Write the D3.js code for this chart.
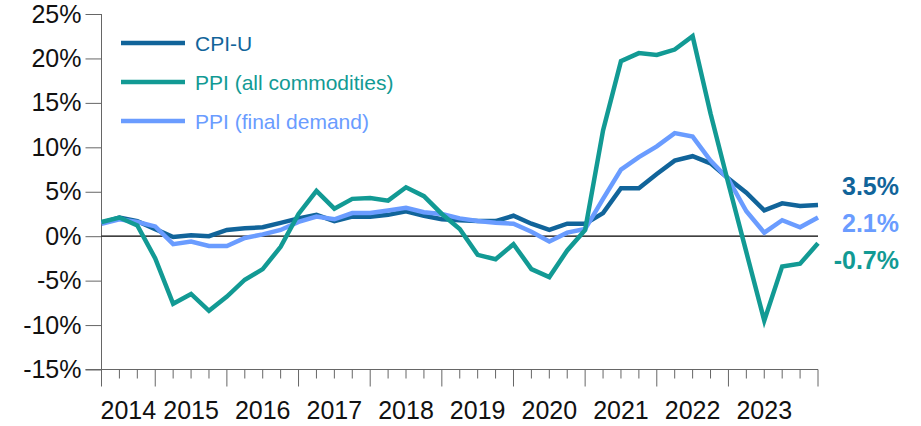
<!DOCTYPE html>
<html>
<head>
<meta charset="utf-8">
<script src="https://cdn.jsdelivr.net/npm/d3@7"></script>
<style>
	body { margin: 0; background: #fff; }
	svg { display: block; font-family: "Liberation Sans", Arial, Helvetica, sans-serif; }
</style>
</head>
<body>
<svg id="chart" width="921" height="426"></svg>
<script>
//////////
// DATA //
//////////
// quarterly, March 2014 .. March 2024, year-over-year % change
var quarters = d3.range(41);
var cpiU = [1.5, 2.1, 1.7, 0.8, -0.1, 0.1, 0.0, 0.7, 0.9, 1.0, 1.5, 2.0, 2.4, 1.7, 2.2, 2.2,
	2.4, 2.8, 2.3, 1.9, 1.8, 1.7, 1.7, 2.3, 1.4, 0.7, 1.4, 1.4, 2.6, 5.4, 5.4, 7.0,
	8.5, 9.0, 8.2, 6.5, 4.9, 2.9, 3.7, 3.4, 3.5];
var ppiAll = [1.6, 2.1, 1.2, -2.5, -7.6, -6.5, -8.4, -6.8, -4.9, -3.7, -1.2, 2.5, 5.1, 3.1, 4.2, 4.3,
	4.0, 5.5, 4.5, 2.5, 0.8, -2.1, -2.6, -0.9, -3.7, -4.6, -1.6, 0.7, 11.9, 19.7, 20.6, 20.4,
	21.0, 22.5, 13.8, 5.9, -1.8, -9.5, -3.4, -3.1, -0.8];
var ppiFinal = [1.4, 1.9, 1.6, 1.1, -0.9, -0.6, -1.1, -1.1, -0.2, 0.2, 0.7, 1.6, 2.2, 1.9, 2.6, 2.6,
	2.9, 3.2, 2.7, 2.5, 2.0, 1.7, 1.5, 1.4, 0.5, -0.6, 0.4, 0.8, 4.2, 7.5, 8.9, 10.1,
	11.6, 11.2, 8.5, 6.4, 2.8, 0.4, 1.8, 1.0, 2.1];

var yTicks = [-15, -10, -5, 0, 5, 10, 15, 20, 25];
var yearLabels = ["2014", "2015", "2016", "2017", "2018", "2019", "2020", "2021", "2022", "2023"];
var yearLabelAt = [1.5, 5, 9, 13, 17, 21, 25, 29, 33, 37];
var majorTicks = [0, 3, 7, 11, 15, 19, 23, 27, 31, 35, 40];

var seriesNames = ["CPI-U", "PPI (all commodities)", "PPI (final demand)"];
var endLabels = ["3.5%", "-0.7%", "2.1%"];
var endLabelAt = [5.7, -2.7, 1.5];

/////////////////
// "CONSTANTS" //
/////////////////
var COLOR_CPI = "#11649a";
var COLOR_PPI_ALL = "#129a94";
var COLOR_PPI_FINAL = "#6a9cff";
var COLOR_AXIS = "#666";
var LINE_WIDTH = 4.5;

var svg = d3.select("#chart");

var x = d3.scaleLinear().domain([0, 40]).range([101.5, 818]);
var y = d3.scaleLinear().domain([-15, 25]).range([369.5, 14]);

var series = [
	{ name: seriesNames[0], values: cpiU, color: COLOR_CPI, end: endLabels[0], endAt: endLabelAt[0] },
	{ name: seriesNames[1], values: ppiAll, color: COLOR_PPI_ALL, end: endLabels[1], endAt: endLabelAt[1] },
	{ name: seriesNames[2], values: ppiFinal, color: COLOR_PPI_FINAL, end: endLabels[2], endAt: endLabelAt[2] }
];

//////////
// AXES //
//////////
var yAxis = svg.append("g")
	.attr("transform", "translate(" + x(0) + ",0)")
	.call(d3.axisLeft(y)
		.tickValues(yTicks)
		.tickSize(16)
		.tickPadding(4)
		.tickFormat(function(d) { return d + "%"; }));
yAxis.select(".domain")
	.attr("d", "M0," + y(25) + "V" + (y(-15) + 10))
	.attr("stroke", COLOR_AXIS);
yAxis.selectAll(".tick line").attr("stroke", COLOR_AXIS);
yAxis.selectAll(".tick text")
	.attr("font-size", 25)
	.attr("fill", "#111")
	.attr("font-family", null);

var xAxis = svg.append("g")
	.attr("transform", "translate(0," + y(-15) + ")");
xAxis.append("line")
	.attr("x1", x(0) - 16)
	.attr("x2", x(40))
	.attr("stroke", COLOR_AXIS);
xAxis.selectAll("line.tick")
	.data(quarters)
	.enter()
	.append("line")
	.attr("class", "tick")
	.attr("x1", function(d) { return x(d); })
	.attr("x2", function(d) { return x(d); })
	.attr("y1", 0)
	.attr("y2", function(d) { return majorTicks.indexOf(d) >= 0 ? 17 : 9; })
	.attr("stroke", COLOR_AXIS);
xAxis.selectAll("text")
	.data(yearLabels)
	.enter()
	.append("text")
	.attr("x", function(d, i) { return x(yearLabelAt[i]); })
	.attr("y", 49)
	.attr("text-anchor", "middle")
	.attr("font-size", 25)
	.attr("fill", "#111")
	.text(function(d) { return d; });

// zero line
svg.append("line")
	.attr("x1", x(0))
	.attr("x2", x(40))
	.attr("y1", y(0))
	.attr("y2", y(0))
	.attr("stroke", "#000")
	.attr("stroke-width", 1.2);

///////////
// LINES //
///////////
var line = d3.line()
	.x(function(d, i) { return x(quarters[i]); })
	.y(function(d) { return y(d); });

[series[0], series[2], series[1]].forEach(function(s) {
	svg.append("path")
		.attr("d", line(s.values))
		.attr("fill", "none")
		.attr("stroke", s.color)
		.attr("stroke-width", LINE_WIDTH);
});

svg.selectAll("text.end")
	.data(series)
	.enter()
	.append("text")
	.attr("class", "end")
	.attr("x", 899)
	.attr("y", function(d) { return y(d.endAt); })
	.attr("dy", "0.36em")
	.attr("text-anchor", "end")
	.attr("font-size", 25)
	.attr("font-weight", "bold")
	.attr("fill", function(d) { return d.color; })
	.text(function(d) { return d.end; });

////////////
// LEGEND //
////////////
var legend = svg.selectAll("g.legend")
	.data(series)
	.enter()
	.append("g")
	.attr("class", "legend")
	.attr("transform", function(d, i) { return "translate(121," + (43 + i * 39) + ")"; });
legend.append("line")
	.attr("x1", 0)
	.attr("x2", 64)
	.attr("stroke", function(d) { return d.color; })
	.attr("stroke-width", LINE_WIDTH);
legend.append("text")
	.attr("x", 74)
	.attr("dy", "0.36em")
	.attr("font-size", 21)
	.attr("fill", function(d) { return d.color; })
	.text(function(d) { return d.name; });
</script>
</body>
</html>
